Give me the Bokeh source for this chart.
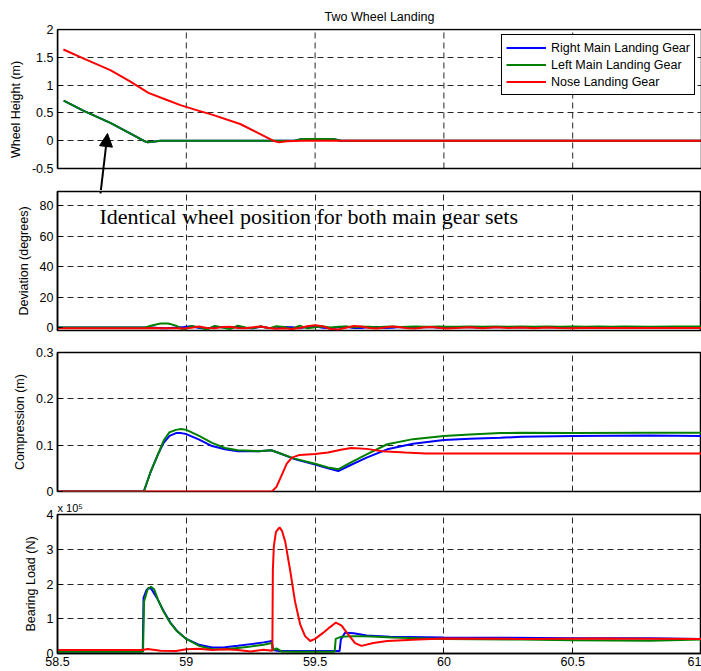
from bokeh.plotting import figure
from bokeh.models import Range1d, FixedTicker, Arrow, NormalHead, Label, BoxAnnotation
from bokeh.layouts import column
from bokeh.embed import file_html
from bokeh.resources import INLINE

# ---------------- data ----------------
TITLE = "Two Wheel Landing"
SERIES = ["Right Main Landing Gear", "Left Main Landing Gear", "Nose Landing Gear"]
COLORS = ["#0000FF", "#008000", "#FF0000"]

X_TICKS = [58.5, 59.0, 59.5, 60.0, 60.5, 61.0]
X_TICK_LABELS = ["58.5", "59", "59.5", "60", "60.5", "61"]

# Panel 1: wheel height (m)
t_h_main = [58.524, 58.6, 58.705, 58.78, 58.834, 58.85, 58.87, 58.9, 59.42, 59.45, 59.57, 59.6, 61.0]
h_right = [0.72, 0.54, 0.32, 0.135, 0.0, -0.03, -0.02, 0.0, 0.0, 0.03, 0.03, 0.0, 0.0]
h_left = [0.72, 0.54, 0.32, 0.135, 0.0, -0.03, -0.02, 0.0, 0.0, 0.03, 0.03, 0.0, 0.0]
t_h_nose = [58.523, 58.6, 58.705, 58.78, 58.853, 58.92, 58.977, 59.04, 59.106, 59.209,
            59.27, 59.337, 59.36, 59.39, 59.45, 61.0]
h_nose = [1.64, 1.48, 1.27, 1.07, 0.86, 0.74, 0.64, 0.55, 0.46, 0.30,
          0.16, 0.0, -0.03, -0.01, 0.0, 0.0]
H_TICKS = [-0.5, 0.0, 0.5, 1.0, 1.5, 2.0]
H_TICK_LABELS = ["-0.5", "0", "0.5", "1", "1.5", "2"]

# Panel 2: deviation (degrees)
t_dev = [58.5, 58.84, 58.87, 58.9, 58.93, 58.96, 58.99, 59.02, 59.05, 59.08,
         59.11, 59.14, 59.17, 59.2, 59.23, 59.26, 59.29, 59.32, 59.35, 59.38,
         59.41, 59.44, 59.47, 59.5, 59.53, 59.56, 59.59, 59.62, 59.65, 59.68,
         59.71, 59.74, 59.77, 59.8, 59.83, 59.86, 59.89, 59.92, 59.95, 59.98,
         60.01, 60.05, 60.1, 60.15, 60.2, 60.25, 60.3, 60.35, 60.4, 60.45,
         60.5, 60.55, 60.6, 60.65, 60.7, 60.8, 60.9, 61.0]
dev_right = [0.0, 0.0, 0.0, -0.5, -0.5, 0.0, 0.3, 0.8, -0.3, -0.8,
             0.5, 0.2, -0.3, 0.5, -0.3, -0.5, 0.4, -0.3, -0.6, 0.3,
             0.2, -0.5, 0.4, 0.6, -0.2, -0.6, 0.2, 0.5, -0.3, -0.4,
             0.3, 0.3, -0.4, -0.2, 0.3, 0.1, -0.3, 0.1, 0.3, -0.2,
             -0.3, 0.2, 0.2, -0.2, 0.1, 0.2, -0.1, 0.1, 0.2, 0.0,
             0.1, 0.2, 0.0, 0.1, 0.1, 0.1, 0.1, 0.1]
dev_left = [0.0, 0.0, 1.5, 2.6, 2.6, 1.2, -1.6, 1.0, 0.2, -1.4,
            1.0, 0.0, -1.0, 1.2, 0.0, -0.5, 0.8, -0.6, 0.8, 0.3,
            -1.0, 1.2, -0.6, 0.2, 0.6, 0.0, 0.4, 0.6, 0.2, 0.4,
            0.5, 0.2, 0.5, 0.6, 0.3, 0.5, 0.6, 0.4, 0.5, 0.6,
            0.4, 0.5, 0.6, 0.5, 0.6, 0.5, 0.6, 0.5, 0.6, 0.5,
            0.6, 0.5, 0.6, 0.5, 0.6, 0.5, 0.6, 0.6]
dev_nose = [-0.5, -0.5, -0.4, -0.5, -0.5, -0.6, -0.7, -0.2, 0.6, -0.3,
            -0.6, 0.3, 0.5, -0.3, -0.5, 0.2, 0.6, -0.4, -0.9, -0.6,
            -1.0, -0.3, 0.8, 1.5, 0.8, -1.0, -1.3, -0.2, 0.9, 0.7,
            -0.3, -0.7, 0.0, 0.6, 0.1, -0.5, -0.7, 0.0, 0.3, -0.2,
            -0.7, -0.3, 0.2, -0.5, 0.1, -0.4, 0.0, -0.5, 0.0, -0.4,
            -0.6, -0.2, -0.3, -0.4, -0.3, -0.3, -0.3, -0.3]
DEV_TICKS = [0, 20, 40, 60, 80]
DEV_TICK_LABELS = ["0", "20", "40", "60", "80"]

# Panel 3: compression (m)
t_c_main = [58.5, 58.835, 58.86, 58.89, 58.912, 58.935, 58.96, 58.98, 59.0, 59.05,
            59.1, 59.15, 59.2, 59.28, 59.33, 59.36, 59.42, 59.5, 59.55, 59.59,
            59.63, 59.7, 59.78, 59.88, 60.0, 60.1, 60.22, 60.3, 60.5, 60.8, 61.0]
comp_right = [0.0, 0.0, 0.04, 0.08, 0.105, 0.12, 0.126, 0.126, 0.124, 0.112,
              0.098, 0.091, 0.087, 0.087, 0.089, 0.083, 0.070, 0.058, 0.050, 0.044,
              0.055, 0.073, 0.091, 0.103, 0.111, 0.114, 0.116, 0.118, 0.120, 0.121, 0.120]
comp_left = [0.0, 0.0, 0.04, 0.08, 0.11, 0.128, 0.133, 0.135, 0.133, 0.12,
             0.105, 0.094, 0.089, 0.087, 0.089, 0.083, 0.071, 0.060, 0.052, 0.048,
             0.060, 0.080, 0.102, 0.113, 0.120, 0.123, 0.126, 0.127, 0.126, 0.127, 0.127]
t_c_nose = [58.5, 59.332, 59.35, 59.37, 59.39, 59.41, 59.44, 59.5, 59.55, 59.6,
            59.64, 59.7, 59.76, 59.85, 59.93, 61.0]
comp_nose = [0.0, 0.0, 0.01, 0.035, 0.06, 0.073, 0.079, 0.081, 0.084, 0.090,
             0.094, 0.092, 0.087, 0.084, 0.082, 0.082]
C_TICKS = [0.0, 0.1, 0.2, 0.3]
C_TICK_LABELS = ["0", "0.1", "0.2", "0.3"]

# Panel 4: bearing load (N)
t_b_right = [58.5, 58.831, 58.834, 58.845, 58.854, 58.865, 58.886, 58.912, 58.938, 58.964,
             59.0, 59.05, 59.1, 59.15, 59.2, 59.25, 59.3, 59.332, 59.336, 59.36,
             59.45, 59.55, 59.595, 59.6, 59.616, 59.65, 59.7, 59.79, 60.0, 60.5,
             60.8, 61.0]
load_right = [6000, 6000, 160000, 182000, 189000, 185000, 160000, 122000, 89000, 65000,
              42000, 25000, 17000, 18000, 22000, 27000, 32000, 36000, 10000, 7000,
              7000, 7000, 7000, 40000, 60000, 58000, 52000, 48000, 46000, 44000,
              44000, 42000]
t_b_left = [58.5, 58.832, 58.836, 58.85, 58.863, 58.875, 58.89, 58.912, 58.938, 58.964,
            59.0, 59.05, 59.1, 59.15, 59.2, 59.25, 59.3, 59.332, 59.338, 59.35,
            59.37, 59.45, 59.55, 59.576, 59.58, 59.6, 59.65, 59.72, 59.8, 60.0,
            60.3, 60.5, 60.8, 61.0]
load_left = [5000, 5000, 150000, 185000, 192000, 185000, 155000, 120000, 88000, 64000,
             42000, 22000, 12000, 12000, 16000, 20000, 25000, 30000, 10000, 15000,
             6000, 5000, 5000, 5000, 42000, 48000, 50000, 49000, 46000, 42000,
             40000, 38000, 37000, 40000]
t_b_nose = [58.5, 58.83, 58.85, 58.9, 58.96, 59.0, 59.05, 59.1, 59.15, 59.2,
            59.25, 59.3, 59.334, 59.336, 59.34, 59.348, 59.362, 59.372, 59.384, 59.403,
            59.422, 59.442, 59.461, 59.481, 59.5, 59.532, 59.558, 59.581, 59.603, 59.623,
            59.655, 59.68, 59.726, 59.78, 59.84, 59.9, 60.0, 60.3, 60.6, 61.0]
load_nose = [10000, 10000, 13000, 8000, 7000, 12000, 14000, 10000, 12000, 10000,
             6000, 11000, 8000, 240000, 310000, 350000, 363000, 352000, 322000, 240000,
             150000, 84000, 50000, 36000, 42000, 60000, 76000, 89000, 80000, 60000,
             30000, 22000, 30000, 36000, 38000, 40000, 43000, 42000, 43000, 42000]
B_TICKS = [0, 100000, 200000, 300000, 400000]
B_TICK_LABELS = ["0", "1", "2", "3", "4"]
B_MULTIPLIER = "x 10\u2075"

ANNOTATION = "Identical wheel position for both main gear sets"

# ---------------- layout / style ----------------
FONT = "Liberation Sans"
FS = "12.5px"
W = 701
LEFT = 57
FRAME_LEFT = LEFT
FRAME_RIGHT = W
X0, X1 = 58.5, 61.0
x_range = Range1d(X0, X1)
GRID_COLOR = "#262626"
GRID_DASH = "6 4"

# page-pixel geometry of the four visible boxes (top, bottom)
P1 = (29, 168)
P2 = (191, 330)
P3 = (352, 491)
P4 = (513, 653)

H_RANGE = (-0.5, 2.0)
D_RANGE = (-2.0, 89.5)
C_RANGE = (0.0, 0.3)
B_RANGE = (0.0, 400000.0)


def px_x(px):
    return X0 + (px - FRAME_LEFT) * (X1 - X0) / (FRAME_RIGHT - FRAME_LEFT)


def px_y(py, top, bottom, y0, y1):
    return y1 - (py - top) * (y1 - y0) / (bottom - top)


def style_axis(ax, size=FS):
    ax.minor_tick_line_color = None
    ax.major_tick_in = 5
    ax.major_tick_out = 0
    ax.major_tick_line_color = "black"
    ax.axis_line_color = "black"
    ax.axis_line_width = 1.5
    ax.major_label_text_font = FONT
    ax.major_label_text_font_size = size
    ax.major_label_text_color = "black"


def panel(height, b_top, b_bot, yr, yticks, ylabels, ylabel, show_x=False):
    p = figure(width=W, height=height, x_range=x_range, y_range=Range1d(*yr),
               output_backend="svg", toolbar_location=None,
               min_border_left=LEFT, min_border_right=0,
               min_border_top=b_top, min_border_bottom=b_bot)
    p.outline_line_color = "black"
    p.outline_line_width = 1.5
    p.outline_line_alpha = 1
    for g in (p.xgrid, p.ygrid):
        g.grid_line_color = GRID_COLOR
        g.grid_line_dash = GRID_DASH
        g.grid_line_width = 1
    p.xgrid.ticker = FixedTicker(ticks=X_TICKS)
    p.ygrid.ticker = FixedTicker(ticks=yticks)
    ax = p.yaxis[0]
    ax.ticker = FixedTicker(ticks=yticks)
    ax.major_label_overrides = dict(zip(yticks, ylabels))
    style_axis(ax)
    ax.major_label_standoff = 4
    ax.axis_label = ylabel
    ax.axis_label_text_font = FONT
    ax.axis_label_text_font_size = FS
    ax.axis_label_text_font_style = "normal"
    ax.axis_label_text_color = "black"
    ax.axis_label_standoff = 6
    xa = p.xaxis[0]
    xa.ticker = FixedTicker(ticks=X_TICKS)
    if show_x:
        xa.major_label_overrides = dict(zip(X_TICKS, X_TICK_LABELS))
        style_axis(xa)
        xa.major_label_standoff = 3
    else:
        xa.visible = False
    return p


# Panel 1's frame reaches down to panel 2 so that the arrow can cross the gap;
# its visible box is drawn as an annotation box over the real data range.
P1_CANVAS_TOP, P1_FRAME_BOTTOM = 28, 190
p1_range = (px_y(P1_FRAME_BOTTOM, *P1, *H_RANGE), px_y(P1_CANVAS_TOP, *P1, *H_RANGE))

p1 = panel(190, P1_CANVAS_TOP, 0, p1_range, H_TICKS, H_TICK_LABELS, "Wheel Height (m)")
p1.outline_line_color = None
p1.yaxis[0].bounds = H_RANGE
p1.xgrid.visible = False
inner_x = X_TICKS[1:-1]
p1.segment(x0=inner_x, y0=[H_RANGE[0]] * len(inner_x), x1=inner_x, y1=[H_RANGE[1]] * len(inner_x),
           line_color=GRID_COLOR, line_dash=GRID_DASH, line_width=1, level="underlay")
p1.add_layout(BoxAnnotation(left=X0, right=X1, bottom=H_RANGE[0], top=H_RANGE[1],
                            fill_alpha=0, fill_color=None, line_color="black",
                            line_width=1.5, line_alpha=1))

p2 = panel(146, 1, 6, D_RANGE, DEV_TICKS, DEV_TICK_LABELS, "Deviation (degrees)")
p3 = panel(163, 16, 8, C_RANGE, C_TICKS, C_TICK_LABELS, "Compression (m)")
p4 = panel(172, 14, 18, B_RANGE, B_TICKS, B_TICK_LABELS, "Bearing Load (N)", show_x=True)

# titles
p1.title.text = TITLE
p1.title.align = "center"
p1.title.text_font = FONT
p1.title.text_font_size = FS
p1.title.text_font_style = "normal"
p1.title.text_color = "black"
p1.title.standoff = 10

p4.title.text = B_MULTIPLIER
p4.title.align = "left"
p4.title.text_font = FONT
p4.title.text_font_size = "11px"
p4.title.text_font_style = "normal"
p4.title.text_color = "black"
p4.title.standoff = 1

LW = 2
p1.line(t_h_main, h_right, color=COLORS[0], line_width=LW, legend_label=SERIES[0])
p1.line(t_h_main, h_left, color=COLORS[1], line_width=LW, legend_label=SERIES[1])
p1.line(t_h_nose, h_nose, color=COLORS[2], line_width=LW, legend_label=SERIES[2])

p2.line(t_dev, dev_right, color=COLORS[0], line_width=LW)
p2.line(t_dev, dev_left, color=COLORS[1], line_width=LW)
p2.line(t_dev, dev_nose, color=COLORS[2], line_width=LW)

p3.line(t_c_main, comp_right, color=COLORS[0], line_width=LW)
p3.line(t_c_main, comp_left, color=COLORS[1], line_width=LW)
p3.line(t_c_nose, comp_nose, color=COLORS[2], line_width=LW)

p4.line(t_b_right, load_right, color=COLORS[0], line_width=LW)
p4.line(t_b_left, load_left, color=COLORS[1], line_width=LW)
p4.line(t_b_nose, load_nose, color=COLORS[2], line_width=LW)

# legend
lg = p1.legend[0]
lg.location = "top_right"
lg.margin = 6
lg.padding = 4
lg.spacing = 0
lg.label_height = 17
lg.glyph_height = 17
lg.glyph_width = 40
lg.label_standoff = 5
lg.label_text_font = FONT
lg.label_text_font_size = FS
lg.label_text_color = "black"
lg.border_line_color = "black"
lg.border_line_width = 1
lg.border_line_alpha = 1
lg.background_fill_alpha = 1

# annotation text and arrow (page-pixel geometry converted to data units)
TIP = (107, 133)
TAIL = (100, 193)
UP = (103.5, 163)
p2.add_layout(Label(x=px_x(99), y=px_y(216, *P2, *D_RANGE), text=ANNOTATION,
                    text_font="Liberation Serif", text_font_size="22px",
                    text_align="left", text_baseline="alphabetic", text_color="black"))
p1.add_layout(Arrow(end=NormalHead(size=13, fill_color="black", line_color="black"),
                    x_start=px_x(TAIL[0]), y_start=px_y(TAIL[1], *P1, *H_RANGE),
                    x_end=px_x(TIP[0]), y_end=px_y(TIP[1], *P1, *H_RANGE),
                    line_color="black", line_width=2))
p2.add_layout(Arrow(end=None,
                    x_start=px_x(TAIL[0]), y_start=px_y(TAIL[1], *P2, *D_RANGE),
                    x_end=px_x(UP[0]), y_end=px_y(UP[1], *P2, *D_RANGE),
                    line_color="black", line_width=2))

layout = column(p1, p2, p3, p4, spacing=0)
open("out.html", "w").write(file_html(layout, INLINE))
